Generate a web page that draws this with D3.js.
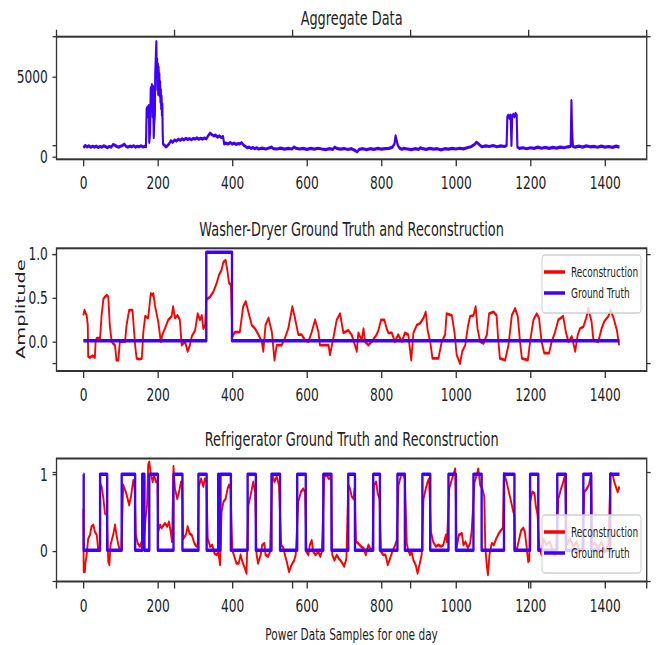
<!DOCTYPE html>
<html>
<head>
<meta charset="utf-8">
<script src="https://cdn.jsdelivr.net/npm/d3@7"></script>
<style>
body { margin: 0; background: #fff; }
</style>
</head>
<body>
<script>
// x ticks shared by the three panels
var sampleTicks = [0, 200, 400, 600, 800, 1000, 1200, 1400];
var aggTicks = [0, 5000];
var washerTicks = [0, 0.5, 1.0];
var fridgeTicks = [0, 1];
// ticks of the frameless outer axes that shows through
var outerTicks = [0, 0.2, 0.4, 0.6, 0.8, 1.0];

// aggregate power, [sample, watts]
var aggregate = [[0,560],[5,700],[10,610],[15,680],[20,590],[25,650],[30,600],[35,660],[40,580],[45,640],[50,600],[55,680],[60,620],[65,570],[70,640],[75,600],[80,760],[85,720],[90,640],[95,600],[100,650],[105,700],[110,780],[115,640],[120,600],[125,660],[130,620],[135,680],[140,600],[145,650],[150,620],[155,680],[160,610],[165,650],[168,620],
	[170,3000],[172,3100],[174,2500],[176,3200],[177,900],[179,1500],[181,4300],[183,3500],[184,4500],[186,2500],[187,4400],[189,1200],[190,2000],[192,2600],[193,5200],[195,6500],[196,7200],[197,5000],[198,6100],[199,4200],[200,5800],[201,3900],[202,5600],[203,4300],[204,5200],[205,3800],[206,4700],[207,3400],[208,4200],[209,3000],[210,3800],[211,2600],[212,3300],[213,1500],[214,800],
	[218,700],[222,620],[226,700],[230,800],[235,1000],[240,900],[245,1050],[250,980],[255,1100],[260,1020],[265,1120],[270,1050],[275,1150],[280,1080],[285,1130],[290,1060],[295,1150],[300,1100],[305,1180],[310,1090],[315,1150],[320,1100],[325,1170],[330,1120],[335,1300],[340,1480],[345,1380],[350,1300],[355,1350],[360,1220],[365,1300],[370,1200],[375,1260],[378,800],[382,850],[388,800],[395,880],[400,790],[405,850],[410,760],[415,820],[420,800],[425,880],[430,720],[435,650],[440,560],[445,600],[450,520],[455,570],[460,500],[465,560],[470,480],[480,540],[490,480],[500,560],[505,600],[510,500],[520,480],[530,540],[540,470],[550,520],[560,480],[565,600],[570,540],[580,480],[590,520],[600,460],[610,520],[620,470],[630,530],[640,480],[650,440],[660,500],[670,460],[675,600],[680,520],[690,470],[700,510],[710,450],[720,500],[730,380],[735,300],[740,460],[750,500],[760,440],[770,500],[780,460],[790,520],[800,470],[810,500],[820,520],[830,600],[835,800],[838,1300],[840,1100],[843,800],[846,620],[850,520],[855,460],[860,520],[870,480],[880,440],[890,500],[900,460],[905,560],[910,500],[920,460],[930,520],[940,470],[950,500],[960,430],[970,500],[980,470],[990,520],[1000,480],[1010,530],[1020,490],[1030,560],[1040,620],[1050,760],[1055,900],[1060,820],[1065,700],[1070,620],[1080,680],[1090,640],[1100,700],[1110,620],[1120,680],[1130,640],[1136,700],
	[1138,2500],[1141,2600],[1144,2400],[1147,2600],[1149,700],[1151,2500],[1154,2650],[1157,2500],[1160,2700],[1163,2600],[1165,600],[1170,520],[1180,560],[1190,500],[1200,560],[1210,520],[1220,600],[1230,530],[1240,580],[1250,520],[1260,580],[1270,540],[1280,600],[1290,560],[1300,620],[1308,640],[1310,3500],[1312,1500],[1314,640],[1320,600],[1330,660],[1340,600],[1350,680],[1360,620],[1370,650],[1380,590],[1390,660],[1400,600],[1410,640],[1420,580],[1430,660],[1439,600]];

// washer-dryer, [sample, amplitude]
var washerTruth = [[0,0.011],[330,1.02],[399,0.011],[1439,0.011]];
var washerRecon = [[0,0.30],[3,0.36],[9,0.30],[12,0.19],[13,-0.17],[18,-0.18],[25,-0.16],[31,-0.18],[33,0.00],[36,0.04],[45,0.04],[49,0.30],[54,0.49],[58,0.51],[63,0.53],[67,0.51],[71,0.19],[76,0.00],[80,-0.02],[85,-0.04],[89,-0.21],[94,-0.21],[98,0.00],[105,0.00],[112,0.00],[116,0.19],[123,0.36],[128,0.36],[132,0.36],[135,0.19],[139,-0.04],[143,-0.19],[150,-0.20],[157,-0.19],[161,0.11],[166,0.29],[174,0.27],[181,0.55],[185,0.53],[188,0.55],[192,0.42],[201,0.23],[208,0.00],[212,0.08],[219,0.15],[228,0.25],[237,0.29],[241,0.40],[246,0.27],[253,0.30],[259,0.25],[264,-0.04],[273,0.00],[280,-0.11],[286,-0.04],[291,0.06],[300,0.13],[307,0.32],[313,0.25],[318,0.30],[322,0.15],[327,0.19],
	[330,0.48],[340,0.51],[349,0.57],[358,0.67],[364,0.76],[371,0.82],[376,0.91],[382,0.93],[387,0.80],[391,0.67],[396,0.65],
	[400,0.06],[407,0.11],[420,0.11],[429,0.40],[436,0.46],[443,0.34],[452,0.19],[461,0.15],[470,0.08],[479,0.00],[483,-0.11],[489,0.19],[497,0.27],[506,0.11],[513,-0.21],[519,-0.04],[532,-0.04],[541,0.04],[550,0.15],[561,0.40],[568,0.27],[577,0.08],[586,0.08],[595,0.02],[604,0.00],[613,0.11],[622,0.25],[631,0.11],[635,-0.04],[649,-0.04],[658,-0.04],[662,-0.15],[671,0.04],[680,0.25],[689,0.32],[698,0.10],[711,0.13],
	[720,0.08],[729,-0.04],[734,-0.11],[738,0.10],[747,0.02],[752,0.15],[756,0.00],[765,-0.04],[774,0.00],[787,0.08],[792,0.13],[799,0.25],[808,0.25],[814,0.15],[819,0.10],[828,0.10],[836,0.00],[845,0.08],[855,0.00],[863,0.10],[872,0.08],[880,-0.21],[886,0.10],[895,0.19],[904,0.21],[913,0.27],[919,0.34],[924,0.13],[931,0.00],[937,-0.19],[953,-0.19],[962,0.00],[971,0.08],[975,0.32],[989,0.30],[996,0.11],[1002,-0.15],[1011,-0.25],[1017,-0.11],[1025,-0.04],[1032,0.17],[1038,0.29],[1047,0.30],[1053,0.40],[1058,0.15],[1065,0.00],[1074,-0.02],[1083,0.08],[1089,0.32],[1101,0.34],[1109,0.30],[1114,0.00],[1118,-0.19],[1132,-0.21],[1141,-0.04],[1150,0.30],[1159,0.38],[1166,0.29],[1172,0.00],[1177,-0.19],[1193,-0.21],[1199,0.00],[1208,0.25],[1217,0.32],[1223,0.27],[1230,0.00],[1237,-0.13],[1250,-0.13],[1257,0.00],[1266,0.11],[1275,0.25],[1288,0.29],[1295,0.11],[1302,0.00],[1311,0.06],[1320,-0.11],[1327,0.08],[1333,0.15],[1342,0.17],[1351,0.29],[1355,0.38],[1364,0.23],[1369,0.02],[1382,0.00],[1391,0.15],[1398,0.23],[1409,0.29],[1415,0.36],[1423,0.27],[1432,0.13],[1438,-0.04]];

// refrigerator: samples where the ground truth is on, [start, end]
var fridgeOn = [[0,1],[45,64],[103,139],[158,164],[177,200],[242,266],[309,331],[362,364],[368,396],[441,463],[505,528],[574,597],[644,666],[711,729],[778,796],[843,863],[910,931],[980,1000],[1047,1069],[1129,1157],[1199,1221],[1272,1295],[1342,1363],[1414,1439]];
var fridgeRecon = [[0,0.55],[1,-0.27],[4,-0.27],[6,-0.14],[9,-0.05],[13,0.16],[18,0.21],[22,0.32],[27,0.34],[31,0.25],[36,0.21],[40,0.01],[44,0.01],
	[45,0.88],[49,0.84],[54,0.68],[58,0.49],[63,0.47],[67,-0.14],[70,-0.18],[73,0.08],[81,0.23],[85,0.34],[89,0.21],[94,0.08],[98,0.01],[102,0.01],
	[107,0.86],[114,0.77],[119,0.68],[123,0.60],[128,0.71],[134,0.92],[138,0.81],
	[141,0.21],[146,0.10],[152,0.06],[158,0.14],[164,0.21],[167,0.42],[171,0.60],[174,1.12],[177,1.16],[181,1.01],[186,0.90],[190,0.99],[195,0.90],[199,0.90],
	[201,0.25],[206,0.34],[210,0.30],[219,0.36],[225,0.32],[230,0.38],[235,0.23],[238,0.12],
	[242,1.10],[246,0.81],[252,0.68],[257,0.77],[262,0.90],[265,0.88],
	[268,0.16],[275,0.21],[280,0.32],[285,0.23],[291,0.21],[298,0.10],[304,0.06],[307,0.06],
	[310,0.84],[316,0.94],[322,0.84],[326,0.94],[330,0.92],
	[334,0.16],[340,0.06],[346,0.08],[352,-0.03],[358,-0.05],[362,-0.01],[367,-0.18],
	[371,0.51],[376,0.64],[382,0.68],[387,0.81],[391,0.86],[395,0.81],
	[400,0.01],[404,-0.05],[411,-0.16],[417,-0.16],[422,-0.05],[427,-0.14],[434,-0.23],[438,-0.29],
	[443,0.60],[450,0.75],[456,0.90],[461,0.77],
	[465,-0.05],[469,-0.16],[476,-0.05],[480,0.08],[486,0.10],[489,-0.05],[496,-0.07],[501,-0.01],
	[507,0.99],[513,0.90],[519,0.97],[525,0.86],
	[531,0.08],[537,0.04],[541,-0.05],[546,-0.14],[552,-0.27],[559,-0.18],[566,-0.12],[570,-0.05],
	[577,0.64],[584,0.77],[590,0.81],[595,0.77],
	[599,-0.01],[604,-0.05],[608,0.08],[613,0.14],[617,-0.01],[623,-0.05],[631,-0.01],[636,-0.07],[640,-0.01],
	[647,0.97],[653,0.99],[659,0.94],[665,0.97],
	[668,-0.05],[674,-0.12],[680,-0.05],[686,-0.10],[693,-0.14],[700,-0.20],[706,-0.10],
	[711,0.86],[716,0.81],[720,0.71],[725,0.68],[728,0.81],
	[732,0.12],[738,0.10],[745,0.06],[752,0.04],[758,-0.05],[765,0.08],[772,0.01],[776,0.04],
	[780,0.86],[786,0.90],[790,0.75],[795,0.68],
	[799,-0.01],[805,-0.05],[811,-0.05],[817,-0.18],[823,-0.10],[829,-0.01],[837,0.08],[841,0.14],
	[846,0.86],[853,0.99],[859,0.99],[863,0.94],
	[868,0.10],[872,0.01],[877,-0.05],[881,-0.01],[886,-0.12],[892,-0.18],[897,-0.29],[904,-0.14],[908,-0.05],
	[913,0.68],[919,0.81],[924,0.90],[928,0.94],
	[933,0.25],[939,0.12],[946,0.06],[953,0.08],[960,0.06],[966,0.08],[973,0.21],[976,0.12],
	[982,0.81],[987,0.90],[993,0.99],[998,1.07],
	[1002,0.04],[1008,0.21],[1016,0.23],[1020,0.08],[1026,0.12],[1032,0.04],[1038,0.10],[1042,0.25],
	[1050,0.90],[1056,0.99],[1060,1.07],[1065,0.86],[1071,0.81],[1076,0.71],
	[1079,0.04],[1083,-0.20],[1086,-0.31],[1090,-0.05],[1096,0.10],[1102,0.08],[1108,0.16],[1115,0.23],[1121,0.27],[1126,0.30],
	[1129,1.01],[1136,0.90],[1142,0.77],[1150,0.60],[1154,0.51],[1157,0.47],
	[1159,0.04],[1163,0.01],[1168,0.12],[1175,0.27],[1181,0.30],[1185,0.25],[1190,0.04],[1194,-0.14],[1197,-0.12],
	[1199,0.64],[1205,0.77],[1211,0.75],[1214,0.60],[1219,0.47],
	[1224,0.04],[1230,-0.05],[1235,0.16],[1243,0.08],[1252,0.12],[1263,-0.05],[1268,-0.05],
	[1275,0.68],[1282,0.81],[1288,0.90],[1293,0.99],
	[1297,0.08],[1306,0.16],[1315,0.06],[1324,0.12],[1333,-0.01],[1339,0.04],
	[1345,0.77],[1351,0.81],[1357,0.86],[1363,1.01],
	[1366,0.08],[1373,0.10],[1382,0.04],[1391,0.12],[1400,-0.01],[1409,0.08],
	[1415,1.01],[1421,0.99],[1425,0.90],[1429,0.84],[1434,0.77],[1439,0.84]];

var RED = "#ff0000", BLUE = "#3f00ff", INK = "#222";
var FONT = "DejaVu Sans, sans-serif";

// the picture is squeezed sideways, so everything is drawn wide and scaled down in x
var SX = 0.66;
var svg = d3.select("body").append("svg")
	.attr("width", 657)
	.attr("height", 645);
var root = svg.append("g").attr("transform", "scale(" + SX + ",1)");

var left = 56.5 / SX, right = 646.7 / SX;
var outerTop = 36.7, outerBottom = 581.5;

var x = d3.scaleLinear().domain([-72, 1512]).range([left, right]);

function fridgeTruth()
{
	var pts = [];
	fridgeOn.forEach(function(d, i){
		pts.push([d[0], 1.0]);
		pts.push([d[1], i == fridgeOn.length - 1 ? 1.0 : 0.01]);
	});
	return pts;
}

function panel(top, bottom, yDomain, yTicks, fmt, title, series, legendTop)
{
	var y = d3.scaleLinear().domain(yDomain).range([bottom, top]);
	var g = root.append("g");

	g.append("text")
		.attr("x", (left + right) / 2)
		.attr("y", top - 12)
		.attr("text-anchor", "middle")
		.attr("font-family", FONT)
		.attr("font-size", 19.5)
		.attr("fill", INK)
		.text(title);

	var xAxis = g.append("g")
		.attr("transform", "translate(0," + bottom + ")")
		.call(d3.axisBottom(x).tickValues(sampleTicks).tickFormat(d3.format("d")).tickSize(7).tickPadding(10));
	xAxis.select(".domain").remove();
	xAxis.selectAll("line").attr("stroke", "#333").attr("stroke-width", 2);
	xAxis.selectAll("text").attr("font-family", FONT).attr("font-size", 18.5).attr("fill", INK);

	var yAxis = g.append("g")
		.attr("transform", "translate(" + left + ",0)")
		.call(d3.axisLeft(y).tickValues(yTicks).tickFormat(d3.format(fmt)).tickSize(4 / SX).tickPadding(7));
	yAxis.select(".domain").remove();
	yAxis.selectAll("line").attr("stroke", "#333").attr("stroke-width", 1.3);
	yAxis.selectAll("text").attr("font-family", FONT).attr("font-size", 18.5).attr("fill", INK);

	series.forEach(function(s){
		var line = d3.line()
			.x(function(d){return x(d[0]);})
			.y(function(d){return y(d[1]);})
			.curve(s.step ? d3.curveStepAfter : d3.curveLinear);
		g.append("path")
			.datum(s.data)
			.attr("fill", "none")
			.attr("stroke", s.color)
			.attr("stroke-width", s.width)
			.attr("stroke-linejoin", "round")
			.attr("d", line);
	});

	g.append("rect")
		.attr("x", left)
		.attr("y", top)
		.attr("width", right - left)
		.attr("height", bottom - top)
		.attr("fill", "none")
		.attr("stroke", "#333")
		.attr("stroke-width", 2);

	if(legendTop)
	{
		var lg = g.append("g").attr("transform", "translate(" + (542 / SX) + "," + legendTop + ")");
		lg.append("rect")
			.attr("width", 99 / SX)
			.attr("height", 58)
			.attr("rx", 4)
			.attr("fill", "#fff")
			.attr("fill-opacity", 0.8)
			.attr("stroke", "#cfcfcf")
			.attr("stroke-width", 1.5);
		var items = lg.selectAll(".item")
			.data([["Reconstruction", RED], ["Ground Truth", BLUE]])
			.enter().append("g")
				.attr("class", "item")
				.attr("transform", function(d, i){return "translate(0," + (17 + i * 21) + ")";});
		items.append("line")
			.attr("x1", 2 / SX)
			.attr("x2", 23 / SX)
			.attr("stroke", function(d){return d[1];})
			.attr("stroke-width", 3.5);
		items.append("text")
			.attr("x", 29 / SX)
			.attr("dy", "0.35em")
			.attr("font-family", FONT)
			.attr("font-size", 13.6)
			.attr("fill", INK)
			.text(function(d){return d[0];});
	}
}

panel(36.7, 159.3, [-162, 7500], aggTicks, "d", "Aggregate Data",
	[{data: aggregate, color: BLUE, width: 3.2}], null);

panel(248.3, 371, [-0.334, 1.065], washerTicks, ".1f", "Washer-Dryer Ground Truth and Reconstruction",
	[{data: washerRecon, color: RED, width: 2.8},
	 {data: washerTruth, color: BLUE, width: 3.6, step: true}], 255);

panel(458.5, 581.5, [-0.396, 1.204], fridgeTicks, "d", "Refrigerator Ground Truth and Reconstruction",
	[{data: fridgeRecon, color: RED, width: 2.8},
	 {data: fridgeTruth(), color: BLUE, width: 3.6, step: true}], 515);

// outer frameless axes: only its ticks and labels show
var ox = d3.scaleLinear().domain([0, 1]).range([left, right]);
var oy = d3.scaleLinear().domain([0, 1]).range([outerBottom, outerTop]);
var outer = root.append("g").attr("stroke", "#333");
outer.selectAll(".ot").data(outerTicks).enter().append("line")
	.attr("x1", ox).attr("x2", ox)
	.attr("y1", outerTop).attr("y2", outerTop - 7)
	.attr("stroke-width", 2);
outer.selectAll(".ob").data(outerTicks).enter().append("line")
	.attr("x1", ox).attr("x2", ox)
	.attr("y1", outerBottom).attr("y2", outerBottom + 7)
	.attr("stroke-width", 2);
outer.selectAll(".ol").data(outerTicks).enter().append("line")
	.attr("x1", left).attr("x2", left - 4 / SX)
	.attr("y1", oy).attr("y2", oy)
	.attr("stroke-width", 1.3);
outer.selectAll(".or").data(outerTicks).enter().append("line")
	.attr("x1", right).attr("x2", right + 4 / SX)
	.attr("y1", oy).attr("y2", oy)
	.attr("stroke-width", 1.3);

root.append("text")
	.attr("x", (left + right) / 2)
	.attr("y", 640)
	.attr("text-anchor", "middle")
	.attr("font-family", FONT)
	.attr("font-size", 16)
	.attr("fill", INK)
	.text("Power Data Samples for one day");

root.append("text")
	.attr("transform", "translate(" + (25 / SX) + "," + ((outerTop + outerBottom) / 2) + ") rotate(-90)")
	.attr("text-anchor", "middle")
	.attr("font-family", FONT)
	.attr("font-size", 19.5)
	.attr("fill", INK)
	.text("Amplitude");
</script>
</body>
</html>
